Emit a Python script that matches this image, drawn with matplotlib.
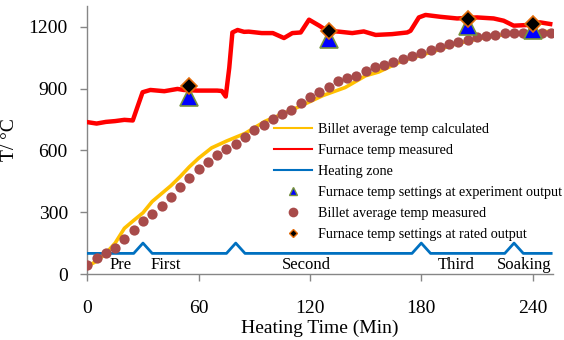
import matplotlib
matplotlib.use("Agg")
import matplotlib.pyplot as plt
from matplotlib.lines import Line2D

plt.rcParams["font.family"] = ["Liberation Serif", "DejaVu Serif"]

# billet average temperature, calculated
calc_t = [0, 5, 10, 15, 20, 25, 30, 35, 40, 45, 50, 55, 60, 67, 75, 85, 96, 103,
          110, 118, 127, 139, 150, 157, 170, 180, 188, 197, 206, 215, 225, 235, 243, 250]
calc_T = [38, 62, 100, 150, 222, 260, 297, 352, 390, 428, 472, 520, 562, 612, 645,
          682, 742, 768, 795, 828, 866, 905, 962, 980, 1035, 1062, 1084, 1112, 1132,
          1148, 1162, 1170, 1175, 1177]

# furnace temperature, measured
furn_t = [0, 5, 10, 15, 20, 24.5, 27, 29.8, 34, 41.5, 48.6, 52, 59, 70, 72.5, 74.6,
          76.5, 78.2, 81, 84.5, 87, 94, 100, 106, 110.5, 115, 119.5, 125, 129.3,
          135.6, 142.8, 149, 155.4, 164.3, 172.4, 174.2, 178.7, 182.3, 190.3, 199.3,
          210, 219, 224.4, 229.8, 236.9, 244, 249.5]
furn_T = [737, 730, 738, 742, 748, 745, 810, 882, 893, 887, 898, 893, 890, 890, 888,
          861, 1000, 1172, 1184, 1175, 1176, 1169, 1169, 1145, 1169, 1172, 1234,
          1205, 1180, 1176, 1169, 1177, 1160, 1164, 1172, 1180, 1245, 1257, 1248,
          1240, 1245, 1240, 1229, 1205, 1208, 1221, 1213]

# heating zone marker line
zone_t = [0, 25, 30, 35, 75, 80, 85, 175, 180, 185, 225, 230, 235, 250]
zone_T = [100, 100, 150, 100, 100, 150, 100, 100, 150, 100, 100, 150, 100, 100]
zone_names = ["Pre", "First", "Second", "Third", "Soaking"]
zone_label_t = [18, 42.5, 118, 198.6, 235.7]

# furnace temperature settings
set_t = [55, 130, 205, 240]
set_exp_T = [858, 1140, 1201, 1185]
set_rated_T = [914, 1180, 1237, 1213]

# billet average temperature, measured every 5 min
meas_t = list(range(0, 251, 5))
meas_T = [44, 76, 104, 125, 169, 213, 255, 293, 332, 375, 422, 465, 510, 543, 576,
          608, 632, 664, 697, 721, 750, 777, 798, 830, 858, 885, 909, 935, 951, 963,
          987, 1003, 1016, 1030, 1043, 1060, 1072, 1087, 1100, 1116, 1124, 1137,
          1148, 1153, 1160, 1168, 1168, 1168, 1170, 1170, 1170]

YELLOW = "#FFC000"
RED = "#FF0000"
BLUE = "#0070C0"
DOT = "#A84B4A"

fig = plt.figure(figsize=(5.64, 3.40), dpi=100)
ax = fig.add_axes([0.1548, 0.1941, 0.8257, 0.788])

ax.plot(calc_t, calc_T, color=YELLOW, lw=2.6, zorder=2)
ax.plot(furn_t, furn_T, color=RED, lw=3.2, solid_joinstyle="round", zorder=3)
ax.plot(zone_t, zone_T, color=BLUE, lw=2.0, zorder=3)
ax.plot(set_t, set_exp_T, ls="none", marker="^", ms=13, mfc="#0000FF",
        mec="#77933C", mew=1.2, zorder=5)
ax.plot(meas_t, meas_T, ls="none", marker="o", ms=7.4, mfc=DOT, mec="none", zorder=4)
ax.plot(set_t, set_rated_T, ls="none", marker="D", ms=8.5, mfc="black",
        mec="#E46C0A", mew=1.2, zorder=6)

for name, t in zip(zone_names, zone_label_t):
    ax.text(t, 24, name, ha="center", va="baseline", fontsize=12)

ax.set_xlim(0, 251)
ax.set_ylim(0, 1300)
ax.set_xticks([0, 60, 120, 180, 240])
ax.set_yticks([0, 300, 600, 900, 1200])
ax.tick_params(axis="both", labelsize=14, color="#868686", length=5, width=1)
ax.tick_params(axis="y", pad=9)
ax.tick_params(axis="x", pad=14)
for side in ("top", "right"):
    ax.spines[side].set_visible(False)
for side in ("left", "bottom"):
    ax.spines[side].set_color("#868686")
    ax.spines[side].set_linewidth(1)

ax.set_xlabel("Heating Time (Min)", fontsize=14, labelpad=2)
ax.set_ylabel("T/ °C", fontsize=14, labelpad=8)

handles = [
    Line2D([], [], color=YELLOW, lw=1.5),
    Line2D([], [], color=RED, lw=1.5),
    Line2D([], [], color=BLUE, lw=1.5),
    Line2D([], [], ls="none", marker="^", ms=6, mfc="#0000FF", mec="#77933C", mew=1),
    Line2D([], [], ls="none", marker="o", ms=7, mfc=DOT, mec="none"),
    Line2D([], [], ls="none", marker="D", ms=4.5, mfc="black", mec="#E46C0A", mew=1),
]
labels = [
    "Billet average temp calculated",
    "Furnace temp measured",
    "Heating zone",
    "Furnace temp settings at experiment output",
    "Billet average temp measured",
    "Furnace temp settings at rated output",
]
ax.legend(handles, labels, loc="upper left", bbox_to_anchor=(0.40, 0.562),
          frameon=False, fontsize=10.2, borderpad=0, borderaxespad=0,
          handlelength=2.7, handletextpad=0.4, labelspacing=0.56)

fig.savefig("out.png", dpi=100)
